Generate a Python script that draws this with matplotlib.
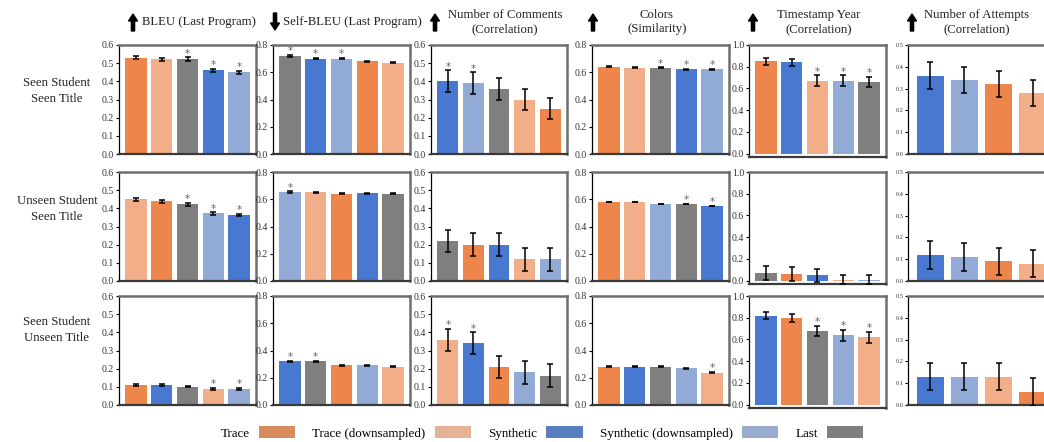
import numpy as np
import matplotlib
matplotlib.use('Agg')
import matplotlib.pyplot as plt
from matplotlib.patches import Patch, FancyArrow
import seaborn as sns

plt.rcParams['font.family'] = ['Liberation Serif', 'DejaVu Serif']

# ============================================
# DATA
# ============================================
method_codes = ['T', 'TD', 'S', 'SD', 'L']
method_labels = ['Trace', 'Trace (downsampled)', 'Synthetic',
                 'Synthetic (downsampled)', 'Last']
method_colors = ['#EE854A', '#F2AE88', '#4878CF', '#92AAD6', '#7F7F7F']

row_labels = ['Seen Student\nSeen Title', 'Unseen Student\nSeen Title',
              'Seen Student\nUnseen Title']
col_titles = ['BLEU (Last Program)', 'Self-BLEU (Last Program)',
              'Number of Comments\n(Correlation)', 'Colors\n(Similarity)',
              'Timestamp Year\n(Correlation)', 'Number of Attempts\n(Correlation)']
col_arrow_up = [True, False, True, True, True, True]

bleu_order = [['T', 'TD', 'L', 'S', 'SD'], ['TD', 'T', 'L', 'SD', 'S'], ['T', 'S', 'L', 'TD', 'SD']]
bleu_mean = [[0.530, 0.522, 0.522, 0.460, 0.450], [0.450, 0.440, 0.422, 0.372, 0.362], [0.110, 0.108, 0.101, 0.090, 0.090]]
bleu_err = [[0.009, 0.008, 0.010, 0.007, 0.007], [0.008, 0.008, 0.008, 0.006, 0.006], [0.005, 0.005, 0.004, 0.005, 0.005]]
bleu_star = [[0, 0, 1, 1, 1], [0, 0, 1, 1, 1], [0, 0, 0, 1, 1]]

selfbleu_order = [['L', 'S', 'SD', 'T', 'TD'], ['SD', 'TD', 'T', 'S', 'L'], ['S', 'L', 'T', 'SD', 'TD']]
selfbleu_mean = [[0.720, 0.700, 0.700, 0.680, 0.670], [0.652, 0.650, 0.642, 0.643, 0.642], [0.320, 0.320, 0.290, 0.290, 0.282]]
selfbleu_err = [[0.006, 0.005, 0.006, 0.005, 0.005], [0.005, 0.005, 0.005, 0.005, 0.005], [0.006, 0.006, 0.006, 0.006, 0.005]]
selfbleu_star = [[1, 1, 1, 0, 0], [1, 0, 0, 0, 0], [1, 1, 0, 0, 0]]

comments_order = [['S', 'SD', 'L', 'TD', 'T'], ['L', 'T', 'S', 'TD', 'SD'], ['TD', 'S', 'T', 'SD', 'L']]
comments_mean = [[0.40, 0.39, 0.36, 0.30, 0.25], [0.22, 0.20, 0.20, 0.12, 0.12], [0.36, 0.34, 0.21, 0.18, 0.16]]
comments_err = [[0.06, 0.06, 0.06, 0.06, 0.06], [0.062, 0.063, 0.063, 0.063, 0.063], [0.06, 0.06, 0.062, 0.063, 0.063]]
comments_star = [[1, 1, 0, 0, 0], [0, 0, 0, 0, 0], [1, 1, 0, 0, 0]]

colors_order = [['T', 'TD', 'L', 'S', 'SD'], ['T', 'TD', 'SD', 'L', 'S'], ['T', 'S', 'L', 'SD', 'TD']]
colors_mean = [[0.640, 0.632, 0.632, 0.622, 0.622], [0.580, 0.580, 0.565, 0.565, 0.550], [0.280, 0.280, 0.280, 0.268, 0.238]]
colors_err = [[0.003] * 5, [0.003] * 5, [0.003] * 5]
colors_star = [[0, 0, 1, 1, 1], [0, 0, 0, 1, 1], [0, 0, 0, 0, 1]]

year_order = [['T', 'S', 'TD', 'SD', 'L'], ['L', 'T', 'S', 'TD', 'SD'], ['S', 'T', 'L', 'SD', 'TD']]
year_mean = [[0.85, 0.84, 0.67, 0.67, 0.66], [0.07, 0.06, 0.05, 0.01, 0.01], [0.82, 0.80, 0.68, 0.64, 0.62]]
year_err = [[0.035, 0.03, 0.05, 0.05, 0.05], [0.062, 0.062, 0.062, 0.04, 0.04], [0.035, 0.035, 0.045, 0.05, 0.05]]
year_star = [[0, 0, 1, 1, 1], [0, 0, 0, 0, 0], [0, 0, 1, 1, 1]]

attempts_order = [['S', 'SD', 'T', 'TD', 'L'], ['S', 'SD', 'T', 'TD', 'L'], ['S', 'SD', 'TD', 'T', 'L']]
attempts_mean = [[0.36, 0.34, 0.32, 0.28, 0.25], [0.12, 0.11, 0.09, 0.08, 0.06], [0.13, 0.13, 0.13, 0.06, 0.05]]
attempts_err = [[0.06] * 5, [0.063] * 5, [0.063] * 5]
attempts_star = [[0] * 5, [0] * 5, [0] * 5]

metrics = [
    (bleu_order, bleu_mean, bleu_err, bleu_star),
    (selfbleu_order, selfbleu_mean, selfbleu_err, selfbleu_star),
    (comments_order, comments_mean, comments_err, comments_star),
    (colors_order, colors_mean, colors_err, colors_star),
    (year_order, year_mean, year_err, year_star),
    (attempts_order, attempts_mean, attempts_err, attempts_star),
]
y_max = [0.6, 0.8, 0.6, 0.8, 1.0, 0.5]
y_step = [0.1, 0.2, 0.1, 0.2, 0.2, 0.1]

color_of = dict(zip(method_codes, method_colors))

# ============================================
# LAYOUT (pixels on a 1044x442 canvas)
# ============================================
W, H = 1044, 442
def fx(px):
    return px / W
def fy(py):
    return 1 - py / H

col_left = [119, 273, 431, 592, 749, 908]
col_width = [137, 137, 136, 137, 137, 181]
row_top = [45, 172, 296]
row_h = 109

fig = plt.figure(figsize=(W / 100, H / 100), dpi=100)

for r in range(3):
    for c in range(6):
        order, mean, err, star = metrics[c]
        top = row_top[r]
        h = row_h
        if c == 4:
            h = row_h + 3
        ax = fig.add_axes([fx(col_left[c]), fy(top + h), col_width[c] / W, h / H])
        x = np.arange(len(order[r]))
        cols = [color_of[m] for m in order[r]]
        ax.bar(x, mean[r], width=0.82, color=cols, zorder=2)
        ax.errorbar(x, mean[r], yerr=err[r], fmt='none', ecolor='black',
                    elinewidth=1.1, capsize=2.2, capthick=1.1, zorder=3)
        # significance stars just above the error bar
        for xi, m, e, s in zip(x, mean[r], err[r], star[r]):
            if s:
                ax.annotate('*', (xi, m + e), xytext=(0, 0.5), textcoords='offset points',
                            ha='center', va='baseline', fontsize=7.5,
                            color='#666666', family='DejaVu Sans')
        ax.set_xlim(-0.66, 4.66)
        if c == 4:
            ax.set_ylim(-0.03, y_max[c])
        else:
            ax.set_ylim(0, y_max[c])
        ax.set_yticks(np.round(np.arange(0, y_max[c] + 1e-9, y_step[c]), 2))
        ax.set_xticks([])
        ax.tick_params(axis='y', length=2, width=0.8, pad=1.5,
                       labelsize=4.5 if c == 5 else 7, labelcolor='#333333')
        for side in ['top', 'right']:
            ax.spines[side].set_color('#6e6e6e')
            ax.spines[side].set_linewidth(1.8)
        ax.spines['bottom'].set_color('#3a3a3a')
        ax.spines['bottom'].set_linewidth(1.6)
        ax.spines['left'].set_color('black')
        ax.spines['left'].set_linewidth(0.9)

# Row labels
row_label_y = [91, 209, 330]
for lab, py in zip(row_labels, row_label_y):
    fig.text(fx(57), fy(py), lab, ha='center', va='center', fontsize=9.2,
             linespacing=1.35, color='#222222')

# Column titles with arrows
title_x = [142, 283, 505, 657, 819, 977]
title_ha = ['left', 'left', 'center', 'center', 'center', 'center']
arrow_x = [133, 275, 435, 593, 753, 912]
for c in range(6):
    fig.text(fx(title_x[c]), fy(22), col_titles[c], ha=title_ha[c], va='center',
             fontsize=9.2, linespacing=1.3, color='#222222')
    if col_arrow_up[c]:
        arr = FancyArrow(fx(arrow_x[c]), fy(31), 0, 17 / H, width=3.2 / W,
                         head_width=9 / W, head_length=7 / H,
                         length_includes_head=True, color='black',
                         transform=fig.transFigure)
    else:
        arr = FancyArrow(fx(arrow_x[c]), fy(13), 0, -17 / H, width=3.2 / W,
                         head_width=9 / W, head_length=7 / H,
                         length_includes_head=True, color='black',
                         transform=fig.transFigure)
    fig.patches.append(arr)

# Legend
handles = [Patch(facecolor=sns.desaturate(col, 0.75)) for col in method_colors]
fig.legend(handles, method_labels, loc='center', bbox_to_anchor=(fx(542), fy(433)),
           ncol=5, frameon=False, markerfirst=False, fontsize=9.4,
           handlelength=2.8, handleheight=1.0, columnspacing=1.3,
           handletextpad=0.7)

fig.savefig('out.png', dpi=100)
plt.close(fig)
